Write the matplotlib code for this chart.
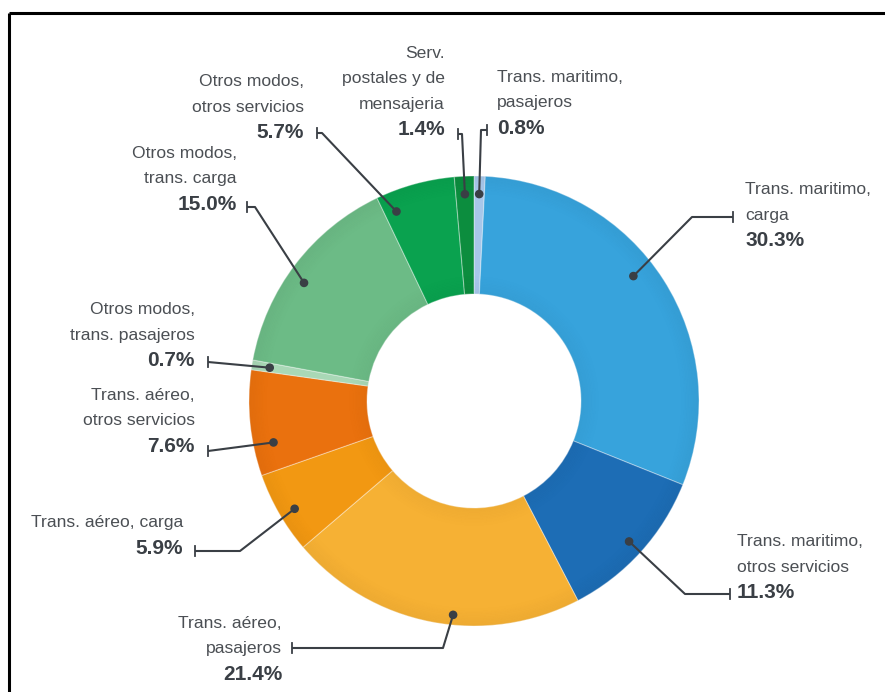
import matplotlib
matplotlib.use('Agg')
import matplotlib.pyplot as plt
from matplotlib.patches import Wedge, Circle
import numpy as np

# shares of each transport service, clockwise from 12 o'clock
names = ['Trans. maritimo,\npasajeros',
         'Trans. maritimo,\ncarga',
         'Trans. maritimo,\notros servicios',
         'Trans. aéreo,\npasajeros',
         'Trans. aéreo, carga',
         'Trans. aéreo,\notros servicios',
         'Otros modos,\ntrans. pasajeros',
         'Otros modos,\ntrans. carga',
         'Otros modos,\notros servicios',
         'Serv.\npostales y de\nmensajeria']
shares = [0.8, 30.3, 11.3, 21.4, 5.9, 7.6, 0.7, 15.0, 5.7, 1.4]
colors = ['#a7c7ea', '#37a3dc', '#1d6db5', '#f6b134', '#f29812', '#ea710e',
          '#a9d8b6', '#6cbb86', '#0aa24f', '#0c8d3e']

W, H = 885, 692
CX, CY = 474, 401
R_OUT, R_IN = 225, 107

# label layout in pixels: text anchor, alignment, leader path (elbow points), tick end.
# 'at' = where the dot sits across the wedge (0..1), 'rf' = dot radius as share of R_OUT
layout = [
    dict(xy=(497, 77), ha='left', path=[(481, 130)], tick=(487, 130), at=0.5, rf=0.92),
    dict(xy=(745, 190), ha='left', path=[(692, 217)], tick=(733, 217), at=0.45, rf=0.90),
    dict(xy=(737, 542), ha='left', path=[(685, 594)], tick=(730, 594), at=0.5, rf=0.93),
    dict(xy=(282, 623), ha='right', path=[(443, 648)], tick=(292, 648), at=0.43, rf=0.955),
    dict(xy=(183, 523), ha='right', path=[(240, 551)], tick=(195, 551), at=0.45, rf=0.93),
    dict(xy=(195, 395), ha='right', path=[], tick=(208, 451), at=0.28, rf=0.91),
    dict(xy=(195, 310), ha='right', path=[], tick=(208, 362), at=0.5, rf=0.92),
    dict(xy=(237, 153), ha='right', path=[(255, 207)], tick=(247, 207), at=0.45, rf=0.92),
    dict(xy=(304, 82), ha='right', path=[(322, 133)], tick=(317, 133), at=0.16, rf=0.91),
    dict(xy=(445, 53), ha='right', path=[(462, 134)], tick=(458, 134), at=0.5, rf=0.92),
]

TXT = '#4b4f54'
DARK = '#3a3f45'
LINE_H = 25.5

plt.rcParams['font.family'] = ['Liberation Sans', 'DejaVu Sans']

fig = plt.figure(figsize=(W / 100, H / 100), dpi=100)
ax = fig.add_axes([0, 0, 1, 1])

# y axis points down, so -90 is the top and counterclock runs clockwise on screen
wedges, _ = ax.pie(shares, colors=colors, center=(CX, CY), radius=R_OUT,
                   startangle=-90, counterclock=True,
                   wedgeprops=dict(width=R_OUT - R_IN, edgecolor=(1, 1, 1, 0.35), linewidth=0.8))

# soft shading near the rims
for k in range(12):
    a = 0.035 * (12 - k) / 12
    ax.add_patch(Wedge((CX, CY), R_OUT - k * 1.5, 0, 360, width=1.5, color='black', alpha=a, lw=0))
    ax.add_patch(Wedge((CX, CY), R_IN + (k + 1) * 1.5, 0, 360, width=1.5, color='black', alpha=a * 0.8, lw=0))

ax.set_xlim(0, W)
ax.set_ylim(H, 0)
ax.set_aspect('equal')
ax.axis('off')

total = sum(shares)
cum = np.cumsum([0] + shares) / total
for i, (name, val) in enumerate(zip(names, shares)):
    lay = layout[i]
    pos = cum[i] + lay['at'] * (cum[i + 1] - cum[i])
    ang = np.deg2rad(-90 + 360 * pos)
    r = lay['rf'] * R_OUT
    dx, dy = CX + r * np.cos(ang), CY + r * np.sin(ang)

    pts = [(dx, dy)] + lay['path'] + [lay['tick']]
    xs, ys = zip(*pts)
    ax.plot(xs, ys, color=DARK, lw=1.5, solid_capstyle='butt', zorder=5)
    tx, ty = lay['tick']
    ax.plot([tx, tx], [ty - 5, ty + 5], color=DARK, lw=1.3, zorder=5)
    ax.add_patch(Circle((dx, dy), 3.6, color=DARK, zorder=6))

    x0, y0 = lay['xy']
    lines = name.split('\n')
    for j, ln in enumerate(lines):
        ax.text(x0, y0 + j * LINE_H, ln, ha=lay['ha'], va='center',
                fontsize=12.6, color=TXT)
    ax.text(x0, y0 + len(lines) * LINE_H, f'{val:.1f}%', ha=lay['ha'], va='center',
            fontsize=15, fontweight='bold', color=DARK)

# page frame: left and top edges only
ax.plot([9, 9], [13, H], color='black', lw=2.2, solid_capstyle='butt')
ax.plot([9, W], [13, 13], color='black', lw=2.2, solid_capstyle='butt')

fig.savefig('out.png', dpi=100, facecolor='white')
